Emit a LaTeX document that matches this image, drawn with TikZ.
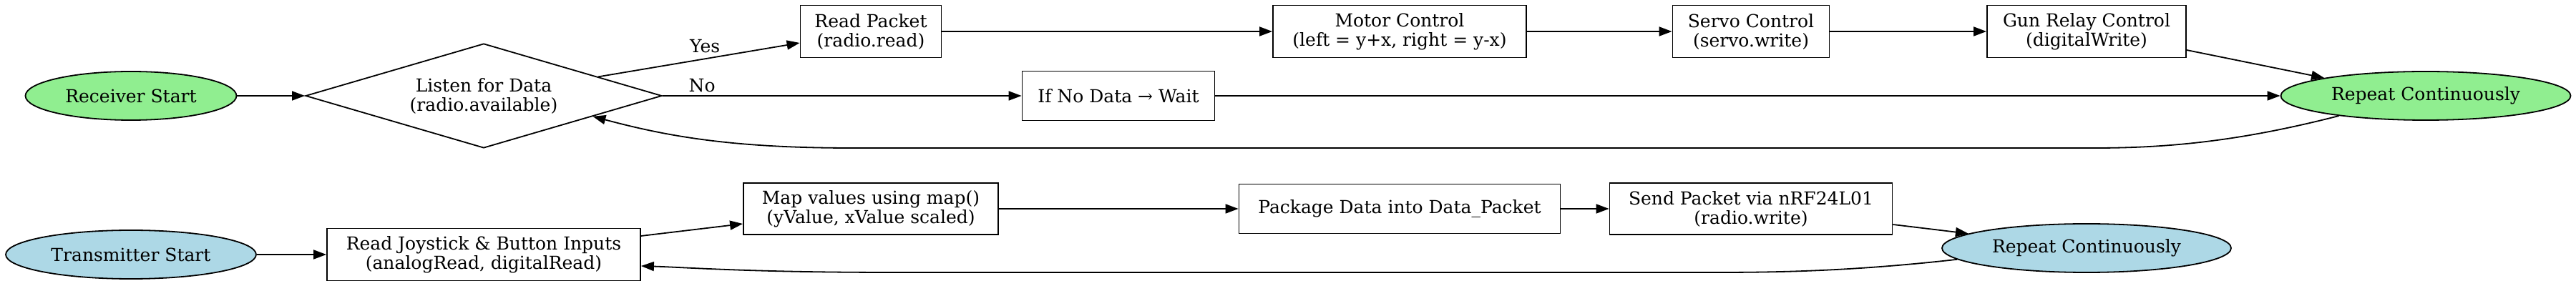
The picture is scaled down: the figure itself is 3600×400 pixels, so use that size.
\documentclass[tikz,border=0pt]{standalone}
\usepackage{fontspec}
\setmainfont{DejaVu Serif}
\usetikzlibrary{shapes.geometric,arrows.meta,calc}
\definecolor{rgreen}{HTML}{90EE90}
\definecolor{tblue}{HTML}{ADD8E6}
\begin{document}
\begin{tikzpicture}[x=0.5pt,y=-0.5pt,
  every node/.style={font=\fontsize{12.5}{13.5}\selectfont, line width=0.9pt},
  box/.style={draw, rectangle, align=center, inner sep=0pt},
  term/.style={draw, ellipse, align=center, inner sep=0pt},
  dec/.style={draw, diamond, aspect=3.41, align=center, inner sep=0pt},
  arr/.style={line width=0.9pt, -{Triangle[length=9pt,width=6.5pt]}},
  lbl/.style={font=\fontsize{12.5}{13.5}\selectfont, inner sep=2pt}]
\useasboundingbox (0,0) rectangle (3600,400);
% receiver row
\node[term, fill=rgreen, minimum width=147.5pt, minimum height=34pt] (rs) at (183,134) {Receiver Start};
\node[dec, minimum width=249pt, minimum height=73pt] (listen) at (676,134) {Listen for Data\\(radio.available)};
\node[box, minimum width=98.5pt, minimum height=36.5pt] (readp) at (1217,44) {Read Packet\\(radio.read)};
\node[box, minimum width=177pt, minimum height=36.5pt] (motor) at (1956,44) {Motor Control\\(left = y+x, right = y-x)};
\node[box, minimum width=109.5pt, minimum height=36.5pt] (servo) at (2447,44) {Servo Control\\(servo.write)};
\node[box, minimum width=139pt, minimum height=36.5pt] (gun) at (2916,44) {Gun Relay Control\\(digitalWrite)};
\node[box, minimum width=134.5pt, minimum height=34.5pt] (nodata) at (1563,134) {If No Data → Wait};
\node[term, fill=rgreen, minimum width=202.5pt, minimum height=34pt] (rrep) at (3390,134) {Repeat Continuously};
% transmitter row
\node[term, fill=tblue, minimum width=175pt, minimum height=34pt] (ts) at (183,356) {Transmitter Start};
\node[box, minimum width=219pt, minimum height=36.5pt] (joy) at (676,356) {Read Joystick \& Button Inputs\\(analogRead, digitalRead)};
\node[box, minimum width=178pt, minimum height=36pt] (map) at (1217,292) {Map values using map()\\(yValue, xValue scaled)};
\node[box, minimum width=224.5pt, minimum height=34.5pt] (pkg) at (1956,292) {Package Data into Data\_Packet};
\node[box, minimum width=197.5pt, minimum height=36pt] (send) at (2447,292) {Send Packet via nRF24L01\\(radio.write)};
\node[term, fill=tblue, minimum width=202pt, minimum height=34pt] (trep) at (2916,347) {Repeat Continuously};
% receiver edges
\draw[arr] (rs) -- (listen);
\draw[arr] ($(listen.north)!0.64!(listen.east)$) -- node[lbl, above, pos=0.53, yshift=2pt] {Yes} ([yshift=-8pt]readp.west);
\draw[arr] (listen.east) -- node[lbl, above, pos=0.11] {No} (nodata.west);
\draw[arr] (readp) -- (motor);
\draw[arr] (motor) -- (servo);
\draw[arr] (servo) -- (gun);
\draw[arr] ([yshift=-13pt]gun.east) -- (rrep.170);
\draw[arr] (nodata) -- (rrep);
\coordinate (fa) at (2928,207);
\coordinate (fb) at (1191,207);
\draw[arr] (rrep.193) .. controls (3140,195) and (3040,207) .. (fa) -- (fb) .. controls (1020,207) and (930,190) .. ($(listen.east)!0.39!(listen.south)$);
% transmitter edges
\draw[arr] (ts) -- (joy);
\draw[arr] ([yshift=13pt]joy.east) -- ([yshift=-10.5pt]map.west);
\draw[arr] (map) -- (pkg);
\draw[arr] (pkg) -- (send);
\draw[arr] ([yshift=-11pt]send.east) -- (trep.173.7);
\coordinate (ta) at (2400,381);
\coordinate (tb) at (1250,381);
\draw[arr] (trep.185.8) .. controls (2600,378) and (2500,381) .. (ta) -- (tb) .. controls (1050,381) and (960,374) .. ([yshift=-8pt]joy.east);
\end{tikzpicture}
\end{document}
